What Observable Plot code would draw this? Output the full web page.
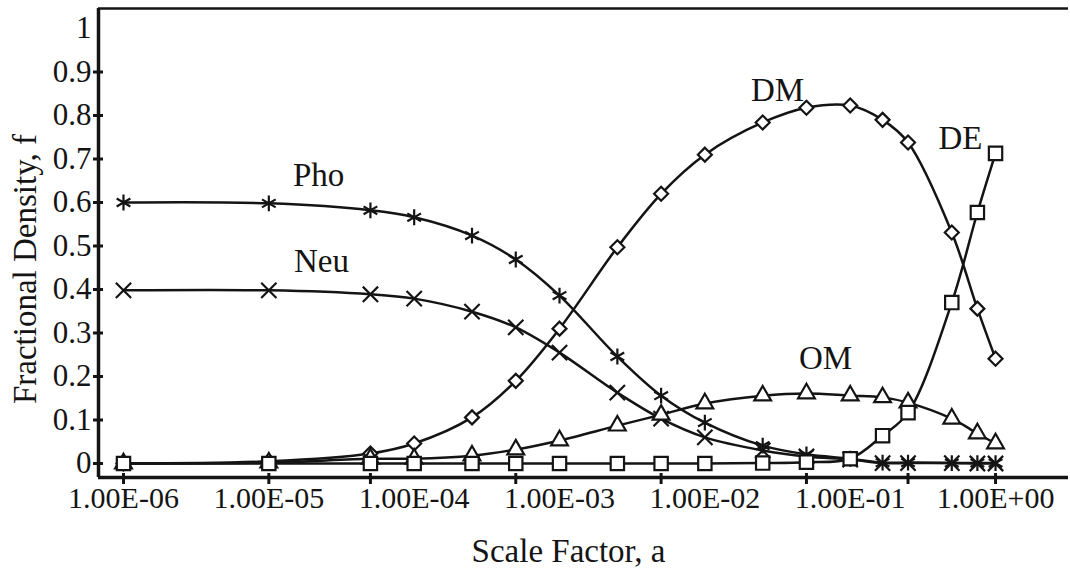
<!DOCTYPE html>
<html>
<head>
<meta charset="utf-8">
<script src="https://cdn.jsdelivr.net/npm/d3@7"></script>
<script src="https://cdn.jsdelivr.net/npm/@observablehq/plot@0.6"></script>
<style>
html, body { margin: 0; padding: 0; background: #fff; }
</style>
</head>
<body>
<div id="chart"></div>
<script>
// Scale factor a (x values, log axis)
const scaleFactor = [1e-6, 1e-5, 5e-5, 1e-4, 2.5e-4, 5e-4, 1e-3, 2.5e-3, 5e-3, 1e-2, 2.5e-2, 5e-2, 0.1, 0.167, 0.25, 0.5, 0.75, 1];

// Fractional densities per component
const pho = [0.600, 0.598, 0.582, 0.566, 0.524, 0.469, 0.386, 0.246, 0.156, 0.094, 0.041, 0.021, 0.011, 0.002, 0.002, 0.001, 0.001, 0.001];
const neu = [0.398, 0.398, 0.389, 0.379, 0.349, 0.313, 0.255, 0.163, 0.103, 0.060, 0.030, 0.016, 0.009, 0.001, 0.001, 0.001, 0.000, 0.000];
const dm  = [0.000, 0.005, 0.023, 0.046, 0.106, 0.190, 0.310, 0.497, 0.620, 0.710, 0.784, 0.818, 0.823, 0.790, 0.738, 0.531, 0.356, 0.241];
const om  = [0.000, 0.002, 0.011, 0.011, 0.018, 0.032, 0.053, 0.087, 0.112, 0.138, 0.156, 0.161, 0.156, 0.152, 0.140, 0.103, 0.069, 0.046];
const de  = [0.000, 0.000, 0.000, 0.000, 0.000, 0.000, 0.000, 0.000, 0.000, 0.000, 0.001, 0.003, 0.011, 0.064, 0.117, 0.370, 0.577, 0.713];

const seriesNames = ["Pho", "Neu", "DM", "OM", "DE"];
const seriesValues = {Pho: pho, Neu: neu, DM: dm, OM: om, DE: de};

// Axis ticks
const xTicks = [1e-6, 1e-5, 1e-4, 1e-3, 1e-2, 1e-1, 1];
const xTickLabels = ["1.00E-06", "1.00E-05", "1.00E-04", "1.00E-03", "1.00E-02", "1.00E-01", "1.00E+00"];
const xTickMarks = [1e-6, 1e-5, 5e-5, 5e-4, 5e-3, 5e-2, 0.25, 1];
const yTicks = [0, 0.1, 0.2, 0.3, 0.4, 0.5, 0.6, 0.7, 0.8, 0.9];
const yTickLabels = ["0", "0.1", "0.2", "0.3", "0.4", "0.5", "0.6", "0.7", "0.8", "0.9"];
const yTopTick = [1];

// Series label annotations (in data space)
const labelNames = ["Pho", "Neu", "DM", "OM", "DE"];
const labelA = [2.2e-5, 2.3e-5, 0.0316, 0.0676, 0.574];
const labelF = [0.662, 0.464, 0.857, 0.241, 0.747];

const symbols = {Pho: "asterisk", Neu: "times", DM: "diamond2", OM: "triangle2", DE: "square2"};
const radii = {Pho: 7.5, Neu: 7, DM: 6.3, OM: 8, DE: 8.5};

const rows = [];
for (const s of seriesNames) {
  seriesValues[s].forEach((v, i) => rows.push({series: s, a: scaleFactor[i], f: v}));
}

const xDomain = [Math.pow(10, -6.172), Math.pow(10, 0.502)];
const yDomain = [-0.0322, 1.046];
const ink = "#141414";

const dotMarks = seriesNames.map(s => Plot.dot(rows.filter(d => d.series === s), {
  x: "a", y: "f", symbol: () => symbols[s], r: radii[s],
  stroke: ink, strokeWidth: 2.2, fill: "#fff"
}));

const chart = Plot.plot({
  width: 1070,
  height: 569,
  marginLeft: 98,
  marginRight: 2,
  marginTop: 8,
  marginBottom: 92,
  x: {type: "log", domain: xDomain},
  y: {domain: yDomain},
  symbol: {type: "identity"},
  marks: [
    Plot.ruleY([yDomain[1]], {stroke: ink, strokeWidth: 2.5}),
    Plot.line(rows, {x: "a", y: "f", z: "series", curve: "catmull-rom", stroke: ink, strokeWidth: 2.5}),
    ...dotMarks,
    Plot.ruleX([xDomain[0]], {stroke: ink, strokeWidth: 3.5}),
    Plot.ruleY([yDomain[0]], {stroke: ink, strokeWidth: 3.5}),
    Plot.axisX({ticks: xTickMarks, tickSize: 11, dy: -4, strokeWidth: 3, fill: "none", label: null}),
    Plot.axisX({ticks: xTicks, tickSize: 0, tickPadding: 9, fontSize: 30,
      tickFormat: d => xTickLabels[xTicks.indexOf(d)], label: null}),
    Plot.axisY({ticks: yTicks, tickSize: 10, dx: 5, tickPadding: 2, fontSize: 31, strokeWidth: 3,
      tickFormat: d => yTickLabels[yTicks.indexOf(d)], label: null}),
    Plot.axisY({ticks: yTopTick, tickSize: 0, tickPadding: 7, fontSize: 31, tickFormat: d => String(d), label: null}),
    Plot.text(labelNames, {x: labelA, y: labelF, text: d => d, fontSize: 33, fill: ink}),
    Plot.text(["Scale Factor, a"], {frameAnchor: "bottom", textAnchor: "middle", lineAnchor: "middle", dx: -15, dy: 74, fontSize: 33, fill: ink}),
    Plot.text(["Fractional Density, f"], {frameAnchor: "left", textAnchor: "middle", lineAnchor: "middle", dx: -73, dy: 26, rotate: -90, fontSize: 33, fill: ink})
  ]
});

// Force the serif face on every text node, directly on the element
chart.setAttribute("font-family", "Liberation Serif");
chart.style.fontFamily = "'Liberation Serif'";
chart.style.background = "#fff";
chart.style.color = ink;
chart.querySelectorAll("g, text").forEach(el => {
  if (el.hasAttribute("font-family")) el.setAttribute("font-family", "Liberation Serif");
});
chart.querySelectorAll("text").forEach(el => {
  el.style.fontFamily = "'Liberation Serif'";
  el.setAttribute("fill", ink);
});

document.getElementById("chart").appendChild(chart);
</script>
</body>
</html>
